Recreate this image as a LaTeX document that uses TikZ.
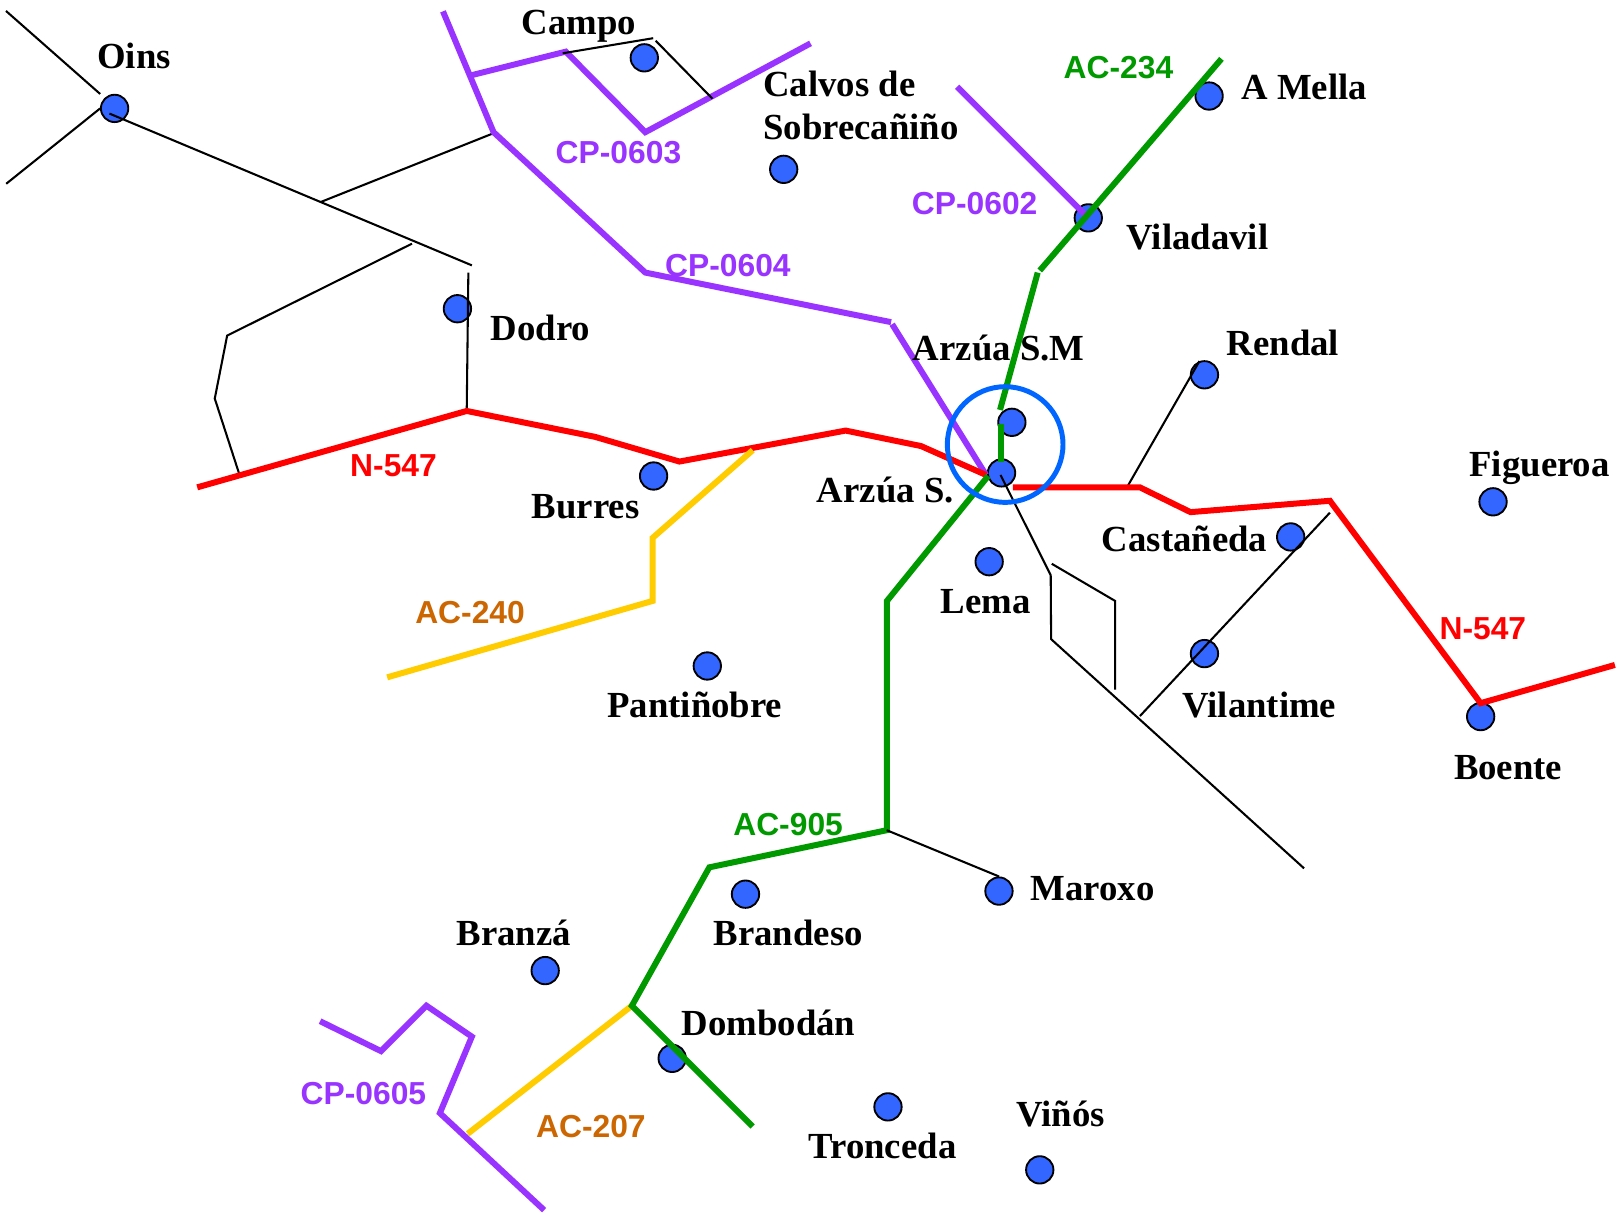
\documentclass[tikz,border=0pt]{standalone}
\usepackage{fontspec}
\setmainfont{Liberation Serif}
\newfontfamily\labelfont{Liberation Sans}
\definecolor{dotblue}{HTML}{3366FF}
\definecolor{circblue}{HTML}{0066FF}
\definecolor{roadpurple}{HTML}{9933FF}
\definecolor{roadgreen}{HTML}{009900}
\definecolor{roadred}{HTML}{FF0000}
\definecolor{roadyellow}{HTML}{FFCC00}
\definecolor{roadorange}{HTML}{CC6600}
\tikzset{
 place/.style={circle,draw=black,fill=dotblue,line width=1.8pt,minimum size=26.5pt,inner sep=0pt},
 town/.style={font=\fontsize{35.6}{40}\selectfont\bfseries,text=black,inner sep=0pt,anchor=base west},
 road/.style={font=\labelfont\fontsize{30.8}{36}\selectfont\bfseries,inner sep=0pt,anchor=base west},
 minor/.style={line width=2pt,black},
 purpleroad/.style={line width=5.8pt,roadpurple},
 greenroad/.style={line width=5.8pt,roadgreen},
 redroad/.style={line width=5.8pt,roadred},
 yellowroad/.style={line width=5.8pt,roadyellow},
}
\begin{document}
\begin{tikzpicture}[x=1pt,y=-1pt]
\useasboundingbox (0,0) rectangle (1568,1175.8);
\fill[white] (0,0) rectangle (1568,1175.8);
% dots
\foreach \n/\x/\y in {oins/111/105,campo/624/56,calvos/759/164,amella/1171/93,viladavil/1054/211,dodro/443/299,rendal/1166.5/363,arzsm/980/409,arzs/970/458,burres/633/461,figueroa/1446/486,castaneda/1250/520,lema/958/544,vilantime/1166.5/633,pantinobre/685/645,boente/1434/694,maroxo/967.5/863,brandeso/722/866,branza/528/940,dombodan/651/1025,tronceda/860/1072,vinos/1007/1133}
  \node[place] (\n) at (\x,\y) {};
% thin black roads
\draw[minor] (5.8,10.6) -- (97,91);
\draw[minor] (97,105) -- (6,178);
\draw[minor] (106,110) -- (457,257);
\draw[minor] (311,195.5) -- (478,129);
\draw[minor] (399,236) -- (220,325) -- (208,386) -- (232,460);
\draw[minor] (453.6,264) -- (452,399);
\draw[minor] (1092,471) -- (rendal.110);
\draw[minor] (969,460) -- (1017.6,557) -- (1018,619) -- (1263,841);
\draw[minor] (1018.6,546) -- (1080,582) -- (1080,668);
\draw[minor] (1104,693.5) -- (1288,496.5);
% purple
\draw[purpleroad] (429,11) -- (478,128) -- (625,264) -- (863,312);
\draw[purpleroad] (864,314) -- (955,460);
\draw[purpleroad] (456,73) -- (548,50) -- (625,128) -- (785,42);
\draw[purpleroad] (927,84) -- (1054,211);
\draw[purpleroad] (310,989) -- (369,1018) -- (413,974) -- (457,1004) -- (426,1078) -- (527,1172);
% red
\draw[redroad] (191,472) -- (452,398) -- (576,423) -- (658,447) -- (819,417) -- (892,432) -- (955,460);
\draw[redroad] (981,472) -- (1104,472) -- (1153,496) -- (1288,485) -- (1434,681) -- (1564,644);
% yellow
\draw[yellowroad] (729,436) -- (632,521) -- (632,582) -- (375,656);
\draw[yellowroad] (612,974) -- (453,1098);
% green
\draw[greenroad] (1183,57) -- (1007,262);
\draw[greenroad] (1005,264) -- (968.5,397);
\draw[greenroad] (969,411) -- (969,447);
\draw[greenroad] (957,461) -- (859,582) -- (859,804) -- (687,840) -- (612,974) -- (729,1091);
% thin black roads drawn over the main roads
\draw[minor] (545,51.6) -- (632.6,37);
\draw[minor] (635,39.4) -- (690,95.6);
\draw[minor] (858.7,804) -- (maroxo.90);
% circle
\node[circle,draw=circblue,line width=4.8pt,minimum size=112pt,inner sep=0pt] (ring) at (973.5,430.5) {};
% towns
\node[town] at (94,66) {Oins};
\node[town] at (505,33) {Campo};
\node[town] at (739,93) {Calvos de};
\node[town] at (739,135) {Sobrecañiño};
\node[town] at (1202,96) {A Mella};
\node[town] at (1091,242) {Viladavil};
\node[town] at (475,330) {Dodro};
\node[town] at (1188,344) {Rendal};
\node[town] at (884,349) {Arzúa S.M};
\node[town] at (1423,461) {Figueroa};
\node[town] at (791,487) {Arzúa S.};
\node[town] at (515,502) {Burres};
\node[town] at (1067,534) {Castañeda};
\node[town] at (911,594) {Lema};
\node[town] at (588,695) {Pantiñobre};
\node[town] at (1145,695) {Vilantime};
\node[town] at (1408,755) {Boente};
\node[town] at (998,872) {Maroxo};
\node[town] at (691,916) {Brandeso};
\node[town] at (442,916) {Branzá};
\node[town] at (660,1003) {Dombodán};
\node[town] at (984,1091) {Viñós};
\node[town] at (783,1122) {Tronceda};
% road labels
\node[road,text=roadgreen] at (1030,76) {AC-234};
\node[road,text=roadpurple] at (538,158) {CP-0603};
\node[road,text=roadpurple] at (883,208) {CP-0602};
\node[road,text=roadpurple] at (644,268) {CP-0604};
\node[road,text=roadred] at (339,461) {N-547};
\node[road,text=roadred] at (1394,619) {N-547};
\node[road,text=roadorange] at (402,604) {AC-240};
\node[road,text=roadgreen] at (710,809) {AC-905};
\node[road,text=roadpurple] at (291,1070) {CP-0605};
\node[road,text=roadorange] at (519,1102) {AC-207};
\end{tikzpicture}
\end{document}
